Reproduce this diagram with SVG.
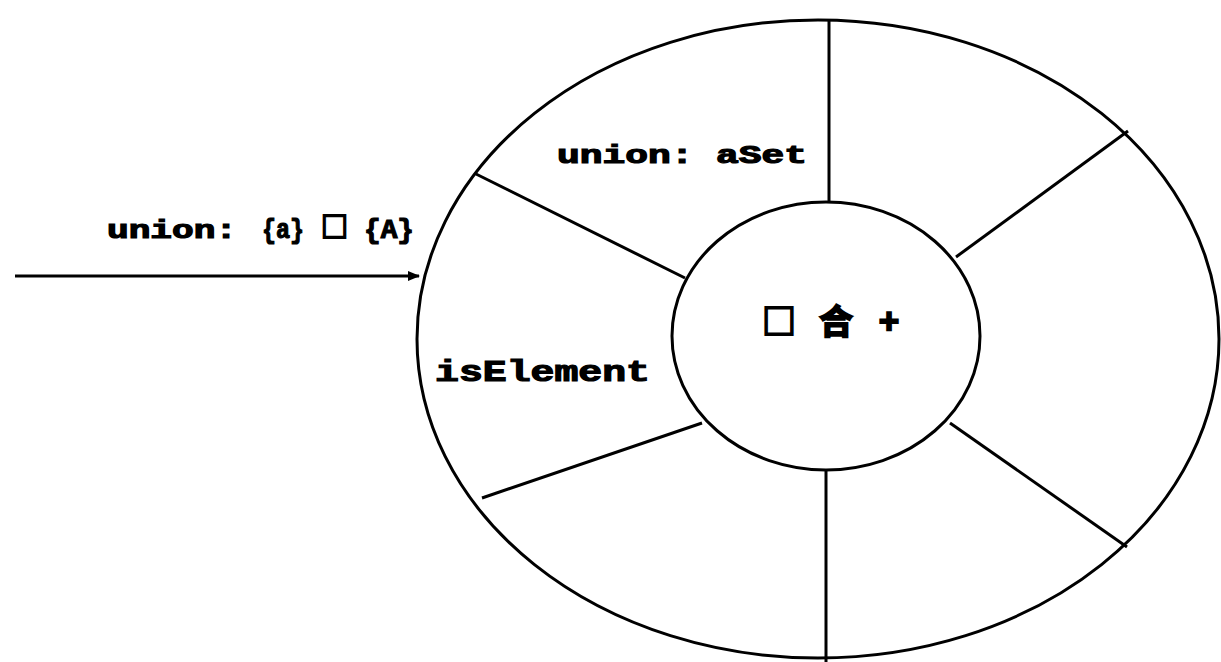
<svg xmlns="http://www.w3.org/2000/svg" width="1221" height="662" viewBox="0 0 1221 662">
<style>
.ln{fill:none;stroke:#000;stroke-width:3}
.t{font-family:"Liberation Mono","DejaVu Sans Mono",monospace;font-weight:bold;fill:#000;stroke:#000;stroke-width:1.2}
.c{font-family:"Noto Sans CJK SC","Liberation Sans",sans-serif;font-weight:bold;fill:#000;stroke:#000;stroke-width:2}
</style>
<defs>
<marker id="arr" markerWidth="12" markerHeight="10" refX="11" refY="5" orient="auto" markerUnits="userSpaceOnUse">
<path d="M0,0 L12,5 L0,10 Z" fill="#000"/>
</marker>
</defs>
<rect width="1221" height="662" fill="#fff"/>
<g id="outer-ring">
<ellipse class="ln" cx="818" cy="339" rx="401" ry="319"/>
<line class="ln" x1="829" y1="20" x2="829" y2="202"/>
<line class="ln" x1="826" y1="470" x2="826" y2="662"/>
<line class="ln" x1="476" y1="174" x2="685" y2="278"/>
<line class="ln" x1="482" y1="498" x2="702" y2="423"/>
<line class="ln" x1="1128" y1="131" x2="956" y2="257"/>
<line class="ln" x1="950" y1="423" x2="1127" y2="547"/>
<text class="t" x="557" y="163" font-size="26" textLength="250" lengthAdjust="spacingAndGlyphs">union: aSet</text>
<text class="t" x="435" y="381" font-size="30" textLength="215" lengthAdjust="spacingAndGlyphs">isElement</text>
</g>
<g id="inner-circle">
<ellipse class="ln" cx="826" cy="336" rx="154" ry="134"/>
<text class="c" x="762" y="334" font-size="34">□</text>
<text class="c" x="819" y="334" font-size="34">合</text>
<text class="c" x="879" y="334" font-size="34">+</text>
</g>
<g id="input-label">
<text class="t" x="107" y="238" font-size="26" textLength="130" lengthAdjust="spacingAndGlyphs">union:</text>
<text class="t" x="262" y="238" font-size="28" textLength="42" lengthAdjust="spacingAndGlyphs">{a}</text>
<text class="c" x="321" y="237" font-size="27">□</text>
<text class="t" x="364" y="238" font-size="28" textLength="50" lengthAdjust="spacingAndGlyphs">{A}</text>
</g>
<g id="connectors">
<line class="ln" x1="15" y1="276" x2="419" y2="276" marker-end="url(#arr)"/>
</g>
</svg>
